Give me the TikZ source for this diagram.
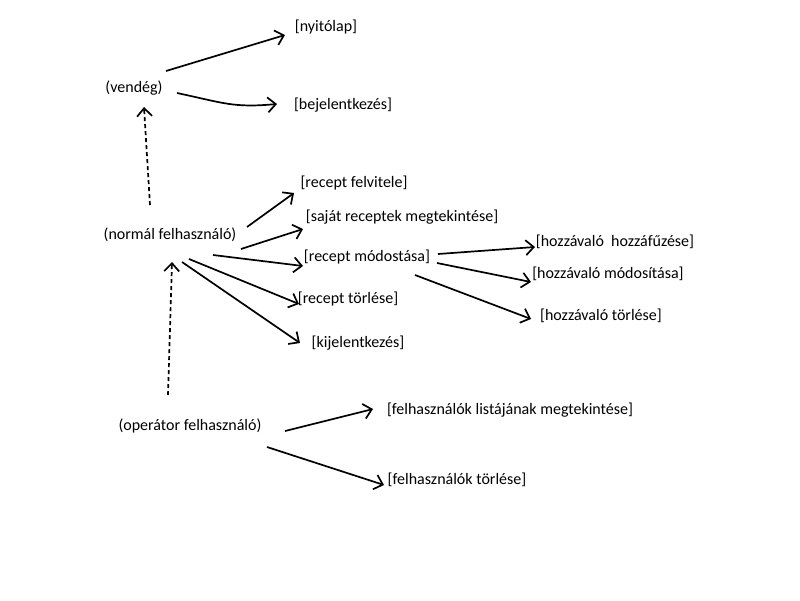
\documentclass[tikz,border=0pt]{standalone}
\usepackage{fontspec}
\setmainfont{Carlito}
\usetikzlibrary{arrows.meta}
\begin{document}
\begin{tikzpicture}[x=1pt,y=-1pt,
  lbl/.style={inner sep=0pt,font=\fontsize{16}{18}\selectfont},
  arr/.style={line width=1.7pt,-{Straight Barb[length=8pt,width=15pt,line width=1.7pt]}},
  darr/.style={arr,dash pattern=on 4pt off 3pt}]
\useasboundingbox[fill=white] (0,0) rectangle (800,600);
\node[lbl] (nyito) at (326,27) {[nyitólap]};
\node[lbl] (vendeg) at (134,88) {(vendég)};
\node[lbl] (bejel) at (343,105) {[bejelentkezés]};
\node[lbl] (felv) at (354,183) {[recept felvitele]};
\node[lbl] (sajat) at (402,217) {[saját receptek megtekintése]};
\node[lbl] (normal) at (170,235) {(normál felhasználó)};
\node[lbl] (modos) at (367,257) {[recept módostása]};
\node[lbl] (hfuz) at (615,242) {[hozzávaló\ \ hozzáfűzése]};
\node[lbl] (hmod) at (608,274) {[hozzávaló módosítása]};
\node[lbl] (torl) at (348,299) {[recept törlése]};
\node[lbl] (htorl) at (601,316) {[hozzávaló törlése]};
\node[lbl] (kijel) at (358,343) {[kijelentkezés]};
\node[lbl] (lista) at (510,410) {[felhasználók listájának megtekintése]};
\node[lbl] (oper) at (190,426) {(operátor felhasználó)};
\node[lbl] (ftorl) at (457,480) {[felhasználók törlése]};
% vendeg
\draw[arr] ([shift={(32,-17)}]vendeg.center) -- ([shift={(-41,8)}]nyito.center);
\draw[arr] ([shift={(43,5)}]vendeg.center) .. controls ([shift={(90,15)}]vendeg.center) and ([shift={(-110,3)}]bejel.center) .. ([shift={(-66,-1)}]bejel.center);
% dashed
\draw[darr] ([shift={(-20,-30)}]normal.center) -- ([shift={(10,19)}]vendeg.center);
\draw[darr] ([shift={(-22,-31)}]oper.center) -- ([shift={(2,27)}]normal.center);
% normal
\draw[arr] ([shift={(77,-8)}]normal.center) -- ([shift={(-60,10)}]felv.center);
\draw[arr] ([shift={(71,14)}]normal.center) -- ([shift={(-99,12)}]sajat.center);
\draw[arr] ([shift={(43,20)}]normal.center) -- ([shift={(-64,9)}]modos.center);
\draw[arr] ([shift={(19,24)}]normal.center) -- ([shift={(-49,5)}]torl.center);
\draw[arr] ([shift={(12,27)}]normal.center) -- ([shift={(-58,0)}]kijel.center);
% modos
\draw[arr] ([shift={(71,-3)}]modos.center) -- ([shift={(-80,5)}]hfuz.center);
\draw[arr] ([shift={(70,6)}]modos.center) -- ([shift={(-77,8)}]hmod.center);
\draw[arr] ([shift={(48,18)}]modos.center) -- ([shift={(-70,3)}]htorl.center);
% operator
\draw[arr] ([shift={(95,5)}]oper.center) -- ([shift={(-137,-1)}]lista.center);
\draw[arr] ([shift={(77,21)}]oper.center) -- ([shift={(-73,5)}]ftorl.center);
\end{tikzpicture}
\end{document}
